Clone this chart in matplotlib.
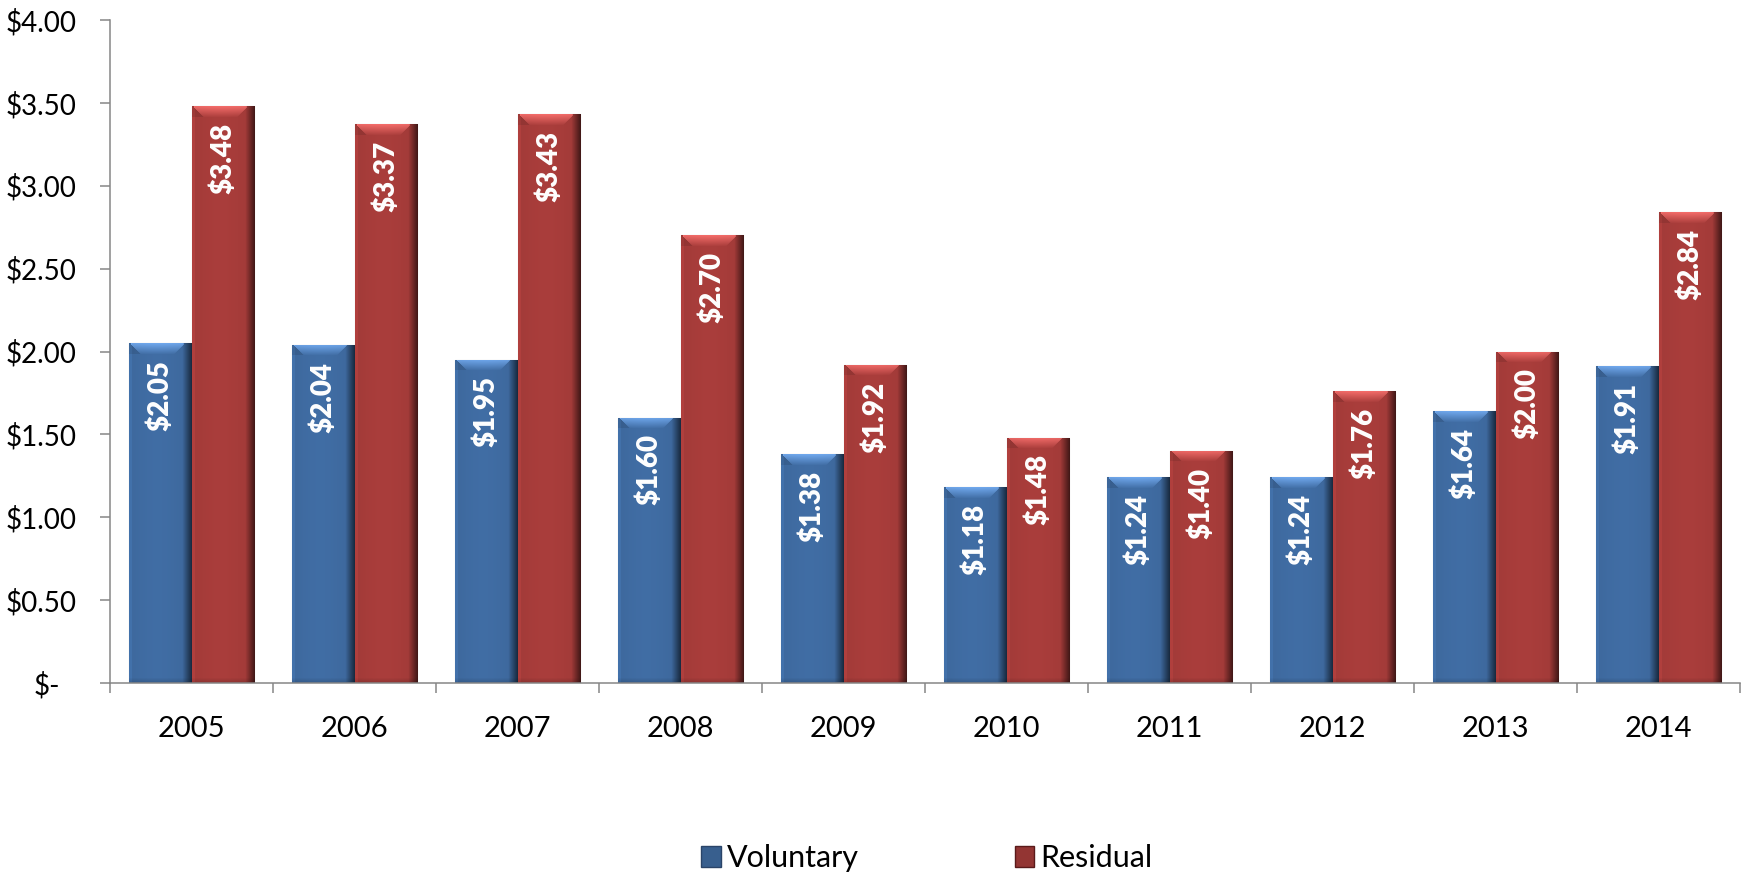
import numpy as np
import matplotlib
matplotlib.use("Agg")
import matplotlib.pyplot as plt
from matplotlib.transforms import ScaledTranslation
from matplotlib.patches import Patch

plt.rcParams['font.family'] = ['Lato', 'DejaVu Sans']

years = ['2005', '2006', '2007', '2008', '2009', '2010', '2011', '2012', '2013', '2014']
voluntary = [2.05, 2.04, 1.95, 1.60, 1.38, 1.18, 1.24, 1.24, 1.64, 1.91]
residual = [3.48, 3.37, 3.43, 2.70, 1.92, 1.48, 1.40, 1.76, 2.00, 2.84]
y_ticks = [0, 0.5, 1.0, 1.5, 2.0, 2.5, 3.0, 3.5, 4.0]
y_tick_labels = ['$-', '$0.50', '$1.00', '$1.50', '$2.00', '$2.50', '$3.00', '$3.50', '$4.00']

BLUE = np.array([62, 105, 158]) / 255
RED = np.array([163, 59, 57]) / 255

W, H, DPI = 1742, 874, 100
fig = plt.figure(figsize=(W / DPI, H / DPI), dpi=DPI)
ax = fig.add_axes([110 / W, (H - 683) / H, 1630 / W, 663 / H])
ax.set_xlim(-0.5, 9.5)
ax.set_ylim(0, 4)

bw = 0.383
x = np.arange(len(years))
px_per_unit = 663 / 4.0
px_bar = bw * 163


def shaded(color, h):
    """Bevel-style shading for one bar, in pixel space."""
    nr = max(int(round(h * px_per_unit)), 4)
    nc = int(round(px_bar))
    img = np.tile(color, (nr, nc, 1)).astype(float)
    cols = np.arange(nc)
    # horizontal shading: light left rim, darker right side
    fac = np.ones(nc)
    fac[cols < 3] = 1.08
    right = nc - cols
    dark = right <= 10
    fac[dark] = 0.35 + 0.65 * (right[dark] / 10.0)
    mid = (cols > 3) & (~dark)
    fac[mid] *= 1.0 + 0.04 * np.sin(np.pi * (cols[mid] - 3) / (nc - 13))
    img *= fac[None, :, None]
    # top bevel: lighter face with sloped sides
    bev = 11
    for r in range(min(bev, nr)):
        inset = int(r * 0.9) + 2
        lo, hi = inset, nc - inset - 6
        t = 1.0 - r / bev
        img[r, lo:hi] = img[r, lo:hi] * (1 + 0.25 * t) + 0.12 * t
        img[r, :lo] *= 0.9
    # bottom edge slightly darker
    for r in range(min(5, nr)):
        img[nr - 1 - r] *= 0.85 + 0.03 * r
    return np.clip(img, 0, 1)


def draw_bars(xs, vals, color):
    bars = ax.bar(xs, vals, width=bw, color=color, edgecolor='#a8a8a8',
                  linewidth=0.8, zorder=2)
    for b, v in zip(bars, vals):
        x0 = b.get_x()
        im = ax.imshow(shaded(color, v), extent=(x0, x0 + bw, 0, v),
                       origin='upper', aspect='auto', interpolation='bilinear',
                       zorder=2.5)
        im.set_clip_path(b)
        ax.annotate(f'${v:.2f}', xy=(b.get_x() + bw / 2, v), xytext=(0, -12),
                    textcoords='offset points', rotation=90, ha='center',
                    va='top', color='white', fontsize=20, fontweight='heavy',
                    zorder=4)
    return bars


draw_bars(x - bw / 2, voluntary, BLUE)
draw_bars(x + bw / 2, residual, RED)
ax.set_xlim(-0.5, 9.5)
ax.set_ylim(0, 4)

for s in ['top', 'right']:
    ax.spines[s].set_visible(False)
for s in ['left', 'bottom']:
    ax.spines[s].set_color('#868686')
    ax.spines[s].set_linewidth(1.1)
    ax.spines[s].set_zorder(5)

ax.set_yticks(y_ticks)
ax.set_yticklabels(y_tick_labels, fontsize=20)
ax.tick_params(axis='y', direction='out', length=7, width=1.1, color='#868686',
               pad=17)
lab0 = ax.get_yticklabels()[0]
lab0.set_transform(lab0.get_transform() + ScaledTranslation(-12 / 72, 0, fig.dpi_scale_trans))

ax.set_xticks(x)
ax.set_xticklabels(years, fontsize=21)
ax.set_xticks(np.arange(-0.5, 10, 1.0), minor=True)
ax.tick_params(axis='x', which='major', length=0, pad=24)
ax.tick_params(axis='x', which='minor', direction='out', length=7, width=1.1,
               color='#868686')

handles = [Patch(facecolor=BLUE * 0.9, edgecolor='#2a4468', label='Voluntary'),
           Patch(facecolor=RED * 0.9, edgecolor='#5a1a1a', label='Residual')]
fig.legend(handles=handles, loc='center', bbox_to_anchor=(0.532, 0.018), ncol=2,
           frameon=False, fontsize=22, handlelength=0.65, handleheight=0.65,
           handletextpad=0.2, columnspacing=5.1, borderaxespad=0, borderpad=0)

fig.savefig('out.png', dpi=DPI)
